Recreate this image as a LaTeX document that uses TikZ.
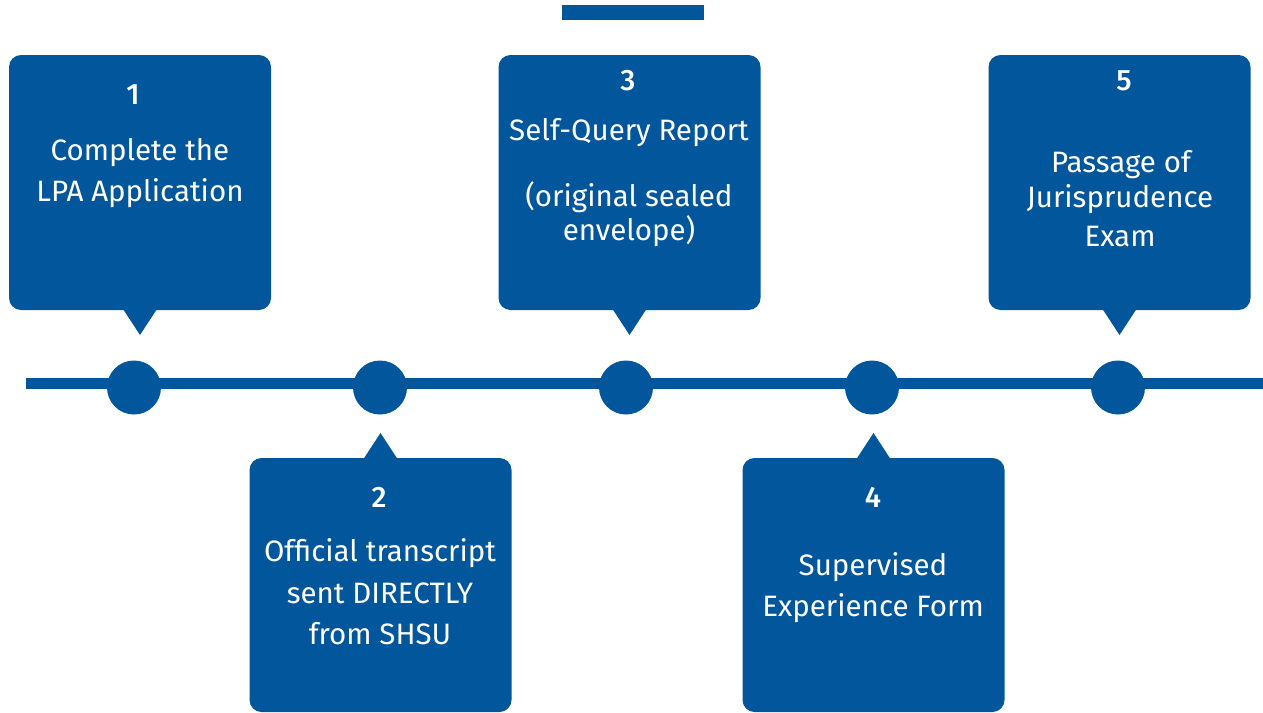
\documentclass[tikz,border=0pt]{standalone}
\usepackage{fontspec}
\setmainfont{Fira Sans}
\IfFontExistsTF{Fira Sans Medium}{\newfontfamily\numfont{Fira Sans Medium}}{\newcommand\numfont{\bfseries}}
\begin{document}
\begin{tikzpicture}[x=1pt,y=-1pt,
  every node/.style={inner sep=0pt, outer sep=0pt},
  box/.style={fill=tlblue, rounded corners=12pt, minimum width=262pt, minimum height=255pt},
  dot/.style={circle, fill=tlblue, minimum size=54pt},
  txt/.style={text=white, yshift=-2.5pt, font=\fontsize{29.5}{34}\selectfont},
  num/.style={text=white, yshift=-1pt, font=\fontsize{29.5}{34}\selectfont\numfont}]
\definecolor{tlblue}{RGB}{2,86,155}
\useasboundingbox (0,0) rectangle (1263,712);
% top bar
\fill[tlblue] (562,5) rectangle (704,20);
% timeline
\coordinate (tlstart) at (26,383.5);
\coordinate (tlend) at (1263,383.5);
\draw[tlblue, line width=11pt] (tlstart) -- (tlend);
\foreach \i/\x in {1/134,2/380,3/626,4/872,5/1118}
  \node[dot] (d\i) at (\x,387.5) {};
% boxes
\node[box] (b1) at (140,182.5) {};
\node[box] (b3) at (629.5,182.5) {};
\node[box] (b5) at (1119.5,182.5) {};
\node[box, minimum height=254pt] (b2) at (380.5,585) {};
\node[box, minimum height=254pt] (b4) at (873.5,585) {};
% pointers
\foreach \b in {b1,b3,b5}
  \fill[tlblue] ([xshift=-17pt,yshift=1pt]\b.south) -- ([yshift=-25pt]\b.south) -- ([xshift=17pt,yshift=1pt]\b.south) -- cycle;
\foreach \b in {b2,b4}
  \fill[tlblue] ([xshift=-17pt,yshift=-1pt]\b.north) -- ([yshift=25pt]\b.north) -- ([xshift=17pt,yshift=-1pt]\b.north) -- cycle;
% texts box 1
\node[num] (n1) at (133,94) {1};
\node[txt] (t1a) at (140,150) {Complete the};
\node[txt] (t1b) at (140,191) {LPA Application};
% box 3
\node[num] (n3) at (628,80) {3};
\node[txt] (t3a) at (629,130) {Self-Query Report};
\node[txt] (t3b) at (629,195) {(original sealed};
\node[txt] (t3c) at (629,229) {envelope)};
% box 5
\node[num] (n5) at (1124,80) {5};
\node[txt] (t5a) at (1121,162) {Passage of};
\node[txt] (t5b) at (1120,197) {Jurisprudence};
\node[txt] (t5c) at (1120,234) {Exam};
% box 2
\node[num] (n2) at (379,496) {2};
\node[txt] (t2a) at (380,551) {Official transcript};
\node[txt] (t2b) at (380,591) {sent DIRECTLY};
\node[txt] (t2c) at (380,631) {from SHSU};
% box 4
\node[num] (n4) at (873,496) {4};
\node[txt] (t4a) at (873,565) {Supervised};
\node[txt] (t4b) at (873,606) {Experience Form};
\end{tikzpicture}
\end{document}
